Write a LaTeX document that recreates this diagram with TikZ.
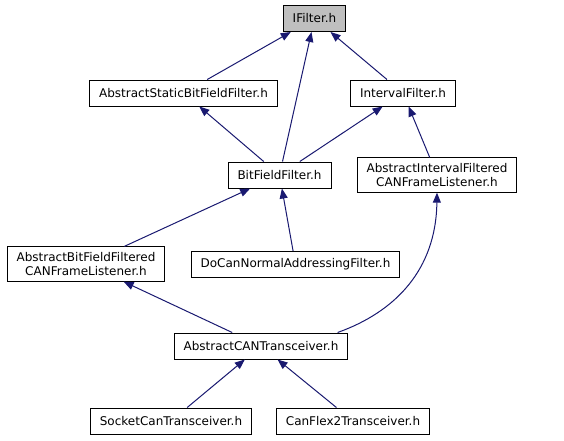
\documentclass[tikz,border=0pt]{standalone}
\usepackage{fontspec}
\setmainfont{DejaVu Sans}
\usetikzlibrary{arrows.meta}
\definecolor{edgeblue}{RGB}{25,25,112}
\definecolor{rootgray}{RGB}{191,191,191}

\begin{document}
\begin{tikzpicture}[x=1pt,y=-1pt,
    file/.style={draw=black,line width=1pt,fill=white,inner xsep=9.5pt,inner ysep=5.5pt,minimum height=26pt,align=center,font=\fontsize{12}{14}\selectfont},
    rootfile/.style={file,fill=rootgray},
    dep/.style={draw=edgeblue,line width=1pt,-{Triangle[length=10pt,width=8pt]}}]
\useasboundingbox (0,0) rectangle (564,440);
\node[rootfile] (ifilter) at (314.5,18.5) {IFilter.h};
\node[file] (asbff) at (183.5,93) {AbstractStaticBitFieldFilter.h};
\node[file] (ivf) at (403,93) {IntervalFilter.h};
\node[file] (bff) at (279.5,175) {BitFieldFilter.h};
\node[file] (aifl) at (437,175) {AbstractIntervalFiltered\\CANFrameListener.h};
\node[file] (abfl) at (86,264) {AbstractBitFieldFiltered\\CANFrameListener.h};
\node[file] (docan) at (295.5,264.5) {DoCanNormalAddressingFilter.h};
\node[file] (act) at (261,346) {AbstractCANTransceiver.h};
\node[file] (socket) at (171,421) {SocketCanTransceiver.h};
\node[file] (flex) at (353,421) {CanFlex2Transceiver.h};

\draw[dep] (asbff) -- (ifilter);
\draw[dep] (bff) -- (ifilter);
\draw[dep] (ivf) -- (ifilter);
\draw[dep] (bff) -- (asbff);
\draw[dep] (bff) -- (ivf);
\draw[dep] (aifl) -- (ivf);
\draw[dep] (abfl) -- (bff);
\draw[dep] (docan) -- (bff);
\draw[dep] (act) -- (abfl);
\draw[dep] (act.10) .. controls (395,312) and (436,270) .. (aifl.south);
\draw[dep] (socket) -- (act);
\draw[dep] (flex) -- (act);
\end{tikzpicture}
\end{document}
